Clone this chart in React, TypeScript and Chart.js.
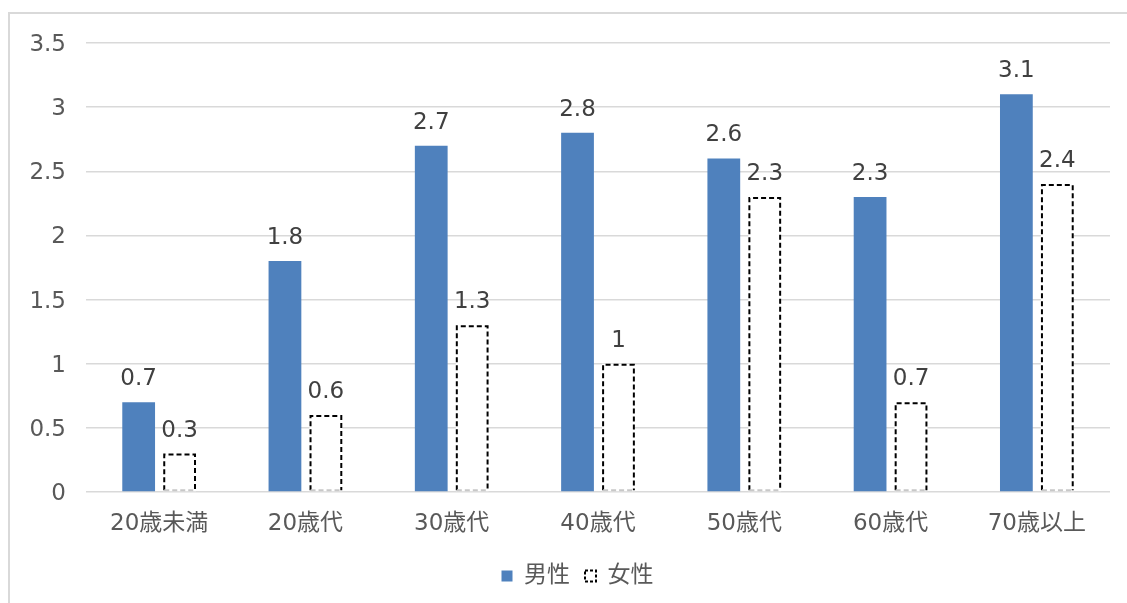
import React, { useEffect, useRef } from "react";
import { Chart, registerables } from "chart.js";

Chart.register(...registerables);

const categories = ["20歳未満", "20歳代", "30歳代", "40歳代", "50歳代", "60歳代", "70歳以上"];
const maleValues = [0.7, 1.8, 2.7, 2.8, 2.6, 2.3, 3.1];
const femaleValues = [0.3, 0.6, 1.3, 1, 2.3, 0.7, 2.4];
const seriesNames = ["男性", "女性"];
const yMin = 0;
const yMax = 3.5;
const yStep = 0.5;

const FONT = '"DejaVu Sans", "Noto Sans CJK JP", sans-serif';
const TEXT = "#595959";
const BLUE = "#4F81BD";

const dashedBarsPlugin = {
  id: "dashedBars",
  afterDatasetsDraw(chart: any) {
    const ctx = chart.ctx;
    const meta = chart.getDatasetMeta(1);
    meta.data.forEach((el: any) => {
      const { x, y, base, width } = el.getProps(["x", "y", "base", "width"], true);
      const l = x - width / 2 + 1;
      const r = x + width / 2 - 1;
      ctx.save();
      ctx.lineWidth = 2;
      ctx.setLineDash([5, 3]);
      ctx.strokeStyle = "#000";
      ctx.beginPath();
      ctx.moveTo(l, base - 1);
      ctx.lineTo(l, y + 1);
      ctx.lineTo(r, y + 1);
      ctx.lineTo(r, base - 1);
      ctx.stroke();
      ctx.strokeStyle = "#c8c8c8";
      ctx.beginPath();
      ctx.moveTo(l, base - 1);
      ctx.lineTo(r, base - 1);
      ctx.stroke();
      ctx.restore();
    });
  },
};

const dataLabelPlugin = {
  id: "dataLabels",
  afterDatasetsDraw(chart: any) {
    const ctx = chart.ctx;
    chart.data.datasets.forEach((ds: any, di: number) => {
      const meta = chart.getDatasetMeta(di);
      meta.data.forEach((el: any, i: number) => {
        const { x, y } = el.getProps(["x", "y"], true);
        ctx.save();
        ctx.font = `23px ${FONT}`;
        ctx.fillStyle = "#404040";
        ctx.textAlign = "center";
        ctx.textBaseline = "alphabetic";
        ctx.fillText(String(ds.data[i]), x, y - 17);
        ctx.restore();
      });
    });
  },
};

const legendShiftPlugin = {
  id: "legendShift",
  afterLayout(chart: any) {
    if (chart.legend) {
      chart.legend.left = 35;
    }
  },
};

export default function App() {
  const ref = useRef<HTMLCanvasElement>(null);
  useEffect(() => {
    if (!ref.current) return;
    Chart.defaults.font.family = FONT;
    const chart = new Chart(ref.current, {
      type: "bar",
      data: {
        labels: categories,
        datasets: [
          {
            label: seriesNames[0],
            data: maleValues,
            backgroundColor: BLUE,
            borderWidth: 0,
            categoryPercentage: 0.56,
            barPercentage: 0.8,
          },
          {
            label: seriesNames[1],
            data: femaleValues,
            backgroundColor: "#ffffff",
            borderWidth: 0,
            categoryPercentage: 0.56,
            barPercentage: 0.8,
          },
        ],
      },
      options: {
        responsive: false,
        animation: false,
        layout: { padding: { left: 0, right: 17, top: 29, bottom: 5.5 } },
        scales: {
          x: {
            grid: { display: false, drawTicks: false },
            border: { display: false },
            ticks: { font: { size: 23, family: FONT }, color: TEXT, padding: 18, maxRotation: 0 },
            afterFit: (s: any) => {
              s.height = 57.5;
            },
          },
          y: {
            min: yMin,
            max: yMax,
            grid: { color: "#d9d9d9", lineWidth: 1.5, drawTicks: false },
            border: { display: false },
            ticks: {
              stepSize: yStep,
              font: { size: 23, family: FONT },
              color: TEXT,
              padding: 20,
              labelOffset: 2,
              callback: (v: any) => String(Number(v)),
            },
            afterFit: (s: any) => {
              s.width = 76;
              s.paddingTop = 0;
              s.paddingBottom = 0;
            },
          },
        },
        plugins: {
          tooltip: { enabled: false },
          legend: {
            position: "bottom",
            labels: {
              boxWidth: 11,
              boxHeight: 11,
              padding: 15,
              color: TEXT,
              font: { size: 23, family: FONT },
              generateLabels: () => [
                {
                  text: seriesNames[0],
                  fillStyle: BLUE,
                  strokeStyle: BLUE,
                  lineWidth: 0,
                  hidden: false,
                  datasetIndex: 0,
                  fontColor: TEXT,
                },
                {
                  text: seriesNames[1],
                  fillStyle: "#ffffff",
                  strokeStyle: "#000000",
                  lineWidth: 2,
                  lineDash: [3, 2],
                  hidden: false,
                  datasetIndex: 1,
                  fontColor: TEXT,
                } as any,
              ],
            },
          },
        },
      },
      plugins: [dashedBarsPlugin, dataLabelPlugin, legendShiftPlugin],
    } as any);
    return () => chart.destroy();
  }, []);

  return (
    <div
      style={{
        position: "fixed",
        left: 8,
        top: 12,
        width: 1130,
        height: 600,
        borderLeft: "2px solid #d9d9d9",
        borderTop: "2px solid #d9d9d9",
        background: "#fff",
        overflow: "hidden",
      }}
    >
      <canvas ref={ref} width={1117} height={589} style={{ display: "block", width: 1117, height: 589 }} />
    </div>
  );
}
